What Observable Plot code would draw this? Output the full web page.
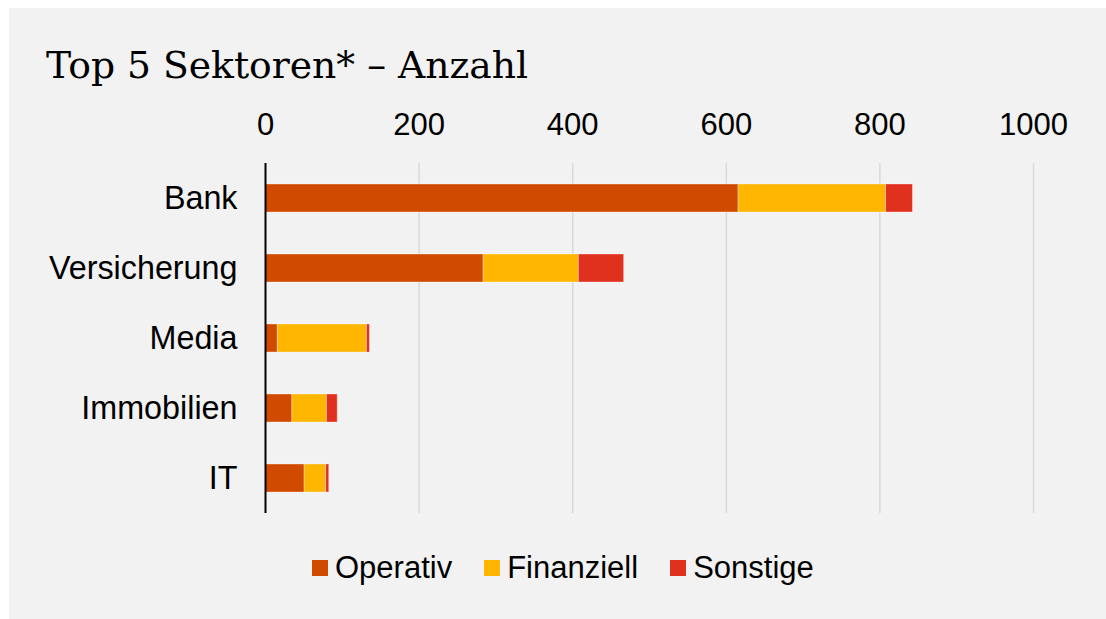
<!DOCTYPE html>
<html>
<head>
<meta charset="utf-8">
<script src="https://cdn.jsdelivr.net/npm/d3@7"></script>
<script src="https://cdn.jsdelivr.net/npm/@observablehq/plot@0.6"></script>
<style>
  html, body { margin: 0; padding: 0; background: #ffffff; }
  body { width: 1106px; height: 619px; position: relative; overflow: hidden; font-family: "Liberation Sans", Arial, sans-serif; }
  #panel { position: absolute; left: 9px; top: 8px; width: 1097px; height: 611px; background: #f2f2f2; }
  #title { position: absolute; left: 46px; top: 41px; font-family: "DejaVu Serif", "Liberation Serif", serif; font-size: 37.7px; line-height: 48px; color: #000; white-space: nowrap; }
  #chart { position: absolute; left: 0; top: 100px; }
  #legend { position: absolute; left: 312px; top: 548px; display: flex; align-items: center; font-size: 31px; line-height: 40px; color: #000; white-space: nowrap; }
  .item { display: flex; align-items: center; margin-right: 32px; }
  .sw { width: 16px; height: 16px; margin-right: 7px; }
</style>
</head>
<body>
<div id="panel"></div>
<div id="title">Top 5 Sektoren* – Anzahl</div>
<div id="chart"></div>
<div id="legend"></div>
<script>
const sectors = ["Bank", "Versicherung", "Media", "Immobilien", "IT"];
const seriesNames = ["Operativ", "Finanziell", "Sonstige"];
const operativ = [616, 284, 16, 35, 51];
const finanziell = [192, 124, 116, 45, 28];
const sonstige = [35, 59, 4, 14, 4];
const xTicks = [0, 200, 400, 600, 800, 1000];
const colors = ["#d04a02", "#ffb600", "#e0301e"];

const seriesValues = [operativ, finanziell, sonstige];
const data = [];
seriesNames.forEach((s, j) => {
  sectors.forEach((c, i) => data.push({sector: c, series: s, value: seriesValues[j][i]}));
});

const chart = Plot.plot({
  width: 1106,
  height: 430,
  marginTop: 63,
  marginBottom: 17,
  marginLeft: 265,
  marginRight: 73,
  style: {background: "transparent", fontFamily: "'Liberation Sans', Arial, sans-serif", color: "#000"},
  x: {domain: [0, 1000], axis: null},
  y: {domain: sectors, paddingInner: 0.6, paddingOuter: 0.3, axis: null},
  color: {domain: seriesNames, range: colors},
  marks: [
    Plot.gridX(xTicks.filter(d => d !== 0), {stroke: "#d9d9d9", strokeOpacity: 1, strokeWidth: 1.5}),
    Plot.barX(data, Plot.stackX({x: "value", y: "sector", fill: "series", order: seriesNames, stroke: "#ffffff", strokeOpacity: 0.35, strokeWidth: 1})),
    Plot.ruleX([0], {stroke: "#000", strokeWidth: 2}),
    Plot.axisX(xTicks, {anchor: "top", tickSize: 0, tickPadding: 29, fontSize: 31, label: null, tickFormat: d => String(d)}),
    Plot.axisY({tickSize: 0, tickPadding: 28, fontSize: 32.3, label: null})
  ]
});
document.getElementById("chart").appendChild(chart);

const legend = document.getElementById("legend");
seriesNames.forEach((s, j) => {
  const item = document.createElement("div");
  item.className = "item";
  const sw = document.createElement("span");
  sw.className = "sw";
  sw.style.background = colors[j];
  const t = document.createElement("span");
  t.textContent = s;
  item.appendChild(sw); item.appendChild(t);
  legend.appendChild(item);
});
</script>
</body>
</html>
